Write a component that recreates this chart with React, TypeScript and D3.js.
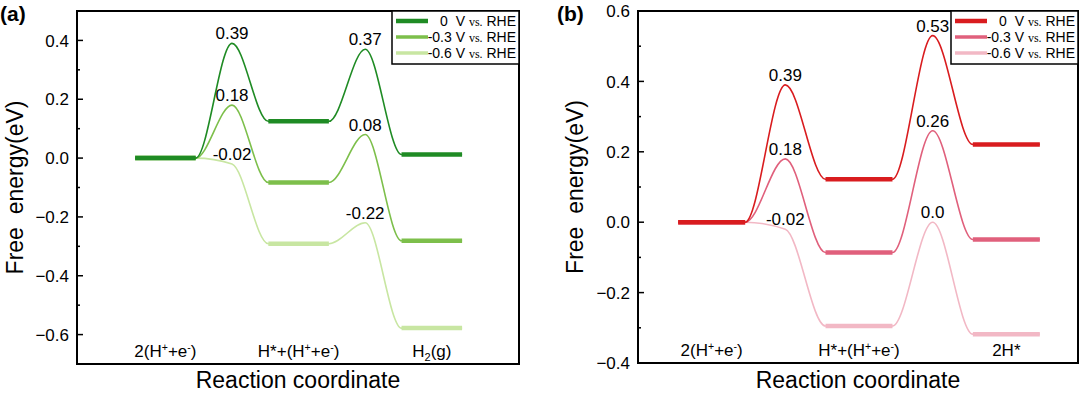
import React, { useEffect, useRef } from "react";
import * as d3 from "d3";

// reaction coordinate positions of the three states and two barriers
const levelX: [number, number][] = [
  [1, 2],
  [3.2, 4.2],
  [5.4, 6.4],
];
const barrierX = [2.6, 4.8];

const potentials = ["0", "-0.3", "-0.6"];

// panel (a)
const statesA = ["2(H^{+}+e^{-})", "H*+(H^{+}+e^{-})", "H_{2}(g)"];
const levelsA_0 = [0, 0.125, 0.012];
const barriersA_0 = [0.39, 0.37];
const levelsA_03 = [0, -0.083, -0.281];
const barriersA_03 = [0.18, 0.08];
const levelsA_06 = [0, -0.291, -0.578];
const barriersA_06 = [-0.02, -0.22];
const ticksA = [-0.6, -0.4, -0.2, 0.0, 0.2, 0.4];

// panel (b)
const statesB = ["2(H^{+}+e^{-})", "H*+(H^{+}+e^{-})", "2H*"];
const levelsB_0 = [0, 0.122, 0.221];
const barriersB_0 = [0.39, 0.53];
const levelsB_03 = [0, -0.086, -0.049];
const barriersB_03 = [0.18, 0.26];
const levelsB_06 = [0, -0.295, -0.318];
const barriersB_06 = [-0.02, 0.0];
const ticksB = [-0.4, -0.2, 0.0, 0.2, 0.4, 0.6];

const greens = ["#1f8b24", "#7dbf4b", "#c8e6a2"];
const reds = ["#d91c1f", "#e0607c", "#f2b8c5"];

const FONT = "'Liberation Sans', Arial, sans-serif";

interface PanelCfg {
  tag: string;
  tagX: number;
  left: number;
  right: number;
  top: number;
  bottom: number;
  xDomain: [number, number];
  yDomain: [number, number];
  ticks: number[];
  states: string[];
  levels: number[][];
  barriers: number[][];
  colors: string[];
  yTitleX: number;
}

// write "a^{b}" / "a_{b}" as tspans
function richText(sel: d3.Selection<SVGTextElement, unknown, null, undefined>, s: string, size: number) {
  const parts = s.split(/(\^\{[^}]*\}|_\{[^}]*\})/).filter((p) => p.length);
  let shift = 0;
  parts.forEach((p) => {
    let dy = 0;
    let txt = p;
    let fs = size;
    if (p.startsWith("^{")) {
      txt = p.slice(2, -1);
      dy = -6.5 - shift;
      fs = size * 0.62;
    } else if (p.startsWith("_{")) {
      txt = p.slice(2, -1);
      dy = 4 - shift;
      fs = size * 0.65;
    } else {
      dy = -shift;
    }
    shift += dy;
    sel.append("tspan").attr("dy", dy).style("font-size", fs + "px").text(txt);
  });
}

function drawPanel(root: d3.Selection<SVGSVGElement, unknown, null, undefined>, p: PanelCfg) {
  const g = root.append("g");
  const x = d3.scaleLinear().domain(p.xDomain).range([p.left, p.right]);
  const y = d3.scaleLinear().domain(p.yDomain).range([p.bottom, p.top]);

  const line = d3
    .line<[number, number]>()
    .x((d) => x(d[0]))
    .y((d) => y(d[1]))
    .curve(d3.curveMonotoneX);

  // draw lightest series first so 0 V is on top
  for (let s = p.levels.length - 1; s >= 0; s--) {
    const lv = p.levels[s];
    const br = p.barriers[s];
    const pts: [number, number][] = [];
    levelX.forEach((lx, i) => {
      pts.push([lx[0], lv[i]], [lx[1], lv[i]]);
      if (i < barrierX.length) pts.push([barrierX[i], br[i]]);
    });
    g.append("path")
      .attr("d", line(pts))
      .attr("fill", "none")
      .attr("stroke", p.colors[s])
      .attr("stroke-width", 1.6);
    g.selectAll(null)
      .data(levelX)
      .enter()
      .append("line")
      .attr("x1", (d) => x(d[0]))
      .attr("x2", (d) => x(d[1]))
      .attr("y1", (_, i) => y(lv[i]))
      .attr("y2", (_, i) => y(lv[i]))
      .attr("stroke", p.colors[s])
      .attr("stroke-width", 4.5);
  }

  // barrier values
  p.barriers.forEach((br) => {
    br.forEach((v, i) => {
      g.append("text")
        .attr("x", x(barrierX[i]))
        .attr("y", y(v) - 4)
        .attr("text-anchor", "middle")
        .style("font-family", FONT)
        .style("font-size", "17px")
        .text(v === 0 ? "0.0" : String(v));
    });
  });

  // state names
  levelX.forEach((lx, i) => {
    const t = g
      .append("text")
      .attr("x", x((lx[0] + lx[1]) / 2))
      .attr("y", p.bottom - 7)
      .attr("text-anchor", "middle")
      .style("font-family", FONT)
      .style("font-size", "17px");
    richText(t, p.states[i], 17);
  });

  // y axis ticks, inward
  const minor = d3.range(p.yDomain[0], p.yDomain[1] + 1e-9, 0.1).filter(
    (v) => !p.ticks.some((t) => Math.abs(t - v) < 1e-6)
  );
  g.selectAll(null)
    .data(p.ticks)
    .enter()
    .append("line")
    .attr("x1", p.left)
    .attr("x2", p.left + 6)
    .attr("y1", (d) => y(d))
    .attr("y2", (d) => y(d))
    .attr("stroke", "#000")
    .attr("stroke-width", 1.5);
  g.selectAll(null)
    .data(minor)
    .enter()
    .append("line")
    .attr("x1", p.left)
    .attr("x2", p.left + 3)
    .attr("y1", (d) => y(d))
    .attr("y2", (d) => y(d))
    .attr("stroke", "#000")
    .attr("stroke-width", 1.5);
  g.selectAll(null)
    .data(p.ticks)
    .enter()
    .append("text")
    .attr("x", p.left - 8)
    .attr("y", (d) => y(d))
    .attr("dy", "0.36em")
    .attr("text-anchor", "end")
    .style("font-family", FONT)
    .style("font-size", "17px")
    .text((d) => d3.format(".1f")(d));

  // frame
  g.append("rect")
    .attr("x", p.left)
    .attr("y", p.top)
    .attr("width", p.right - p.left)
    .attr("height", p.bottom - p.top)
    .attr("fill", "none")
    .attr("stroke", "#000")
    .attr("stroke-width", 2);

  // legend
  const lw = 127;
  const lh = 53;
  const lg = g.append("g").attr("transform", `translate(${p.right - lw},${p.top})`);
  lg.append("rect")
    .attr("width", lw)
    .attr("height", lh)
    .attr("fill", "#fff")
    .attr("stroke", "#000")
    .attr("stroke-width", 1.5);
  potentials.forEach((pot, i) => {
    const ry = 10 + i * 16;
    lg.append("line")
      .attr("x1", 4)
      .attr("x2", 36)
      .attr("y1", ry)
      .attr("y2", ry)
      .attr("stroke", p.colors[i])
      .attr("stroke-width", i === 0 ? 4.5 : 3.5);
    const t = lg
      .append("text")
      .attr("x", lw - 3)
      .attr("y", ry + 5)
      .attr("text-anchor", "end")
      .style("font-family", FONT)
      .style("font-size", "14px")
      .style("white-space", "pre");
    t.append("tspan").text(pot === "0" ? "0  V " : `${pot} V `);
    t.append("tspan").style("font-family", "'Liberation Serif', serif").style("font-size", "12px").text("vs.");
    t.append("tspan").text(" RHE");
  });

  // axis titles
  g.append("text")
    .attr("transform", `translate(${p.yTitleX},${(p.top + p.bottom) / 2}) rotate(-90)`)
    .attr("text-anchor", "middle")
    .attr("dy", "0.35em")
    .style("font-family", FONT)
    .style("font-size", "23px")
    .style("white-space", "pre")
    .text("Free  energy(eV)");
  g.append("text")
    .attr("x", (p.left + p.right) / 2)
    .attr("y", 388)
    .attr("text-anchor", "middle")
    .style("font-family", FONT)
    .style("font-size", "23px")
    .text("Reaction coordinate");

  g.append("text")
    .attr("x", p.tagX)
    .attr("y", 21)
    .style("font-family", FONT)
    .style("font-size", "21px")
    .style("font-weight", "bold")
    .text(p.tag);
}

const App: React.FC = () => {
  const svgRef = useRef<SVGSVGElement>(null);

  useEffect(() => {
    if (!svgRef.current) return;
    const svg = d3.select(svgRef.current);
    svg.selectAll("*").remove();

    drawPanel(svg, {
      tag: "(a)",
      tagX: 0,
      left: 77,
      right: 519,
      top: 11,
      bottom: 364,
      xDomain: [0.04, 7.34],
      yDomain: [-0.7, 0.5],
      ticks: ticksA,
      states: statesA,
      levels: [levelsA_0, levelsA_03, levelsA_06],
      barriers: [barriersA_0, barriersA_03, barriersA_06],
      colors: greens,
      yTitleX: 15,
    });
    drawPanel(svg, {
      tag: "(b)",
      tagX: 557,
      left: 638,
      right: 1078,
      top: 11,
      bottom: 363,
      xDomain: [0.4, 6.97],
      yDomain: [-0.4, 0.6],
      ticks: ticksB,
      states: statesB,
      levels: [levelsB_0, levelsB_03, levelsB_06],
      barriers: [barriersB_0, barriersB_03, barriersB_06],
      colors: reds,
      yTitleX: 575,
    });
  }, []);

  return (
    <svg
      ref={svgRef}
      width={1080}
      height={393}
      style={{ position: "absolute", left: 0, top: 0, background: "#fff" }}
    />
  );
};

export default App;
